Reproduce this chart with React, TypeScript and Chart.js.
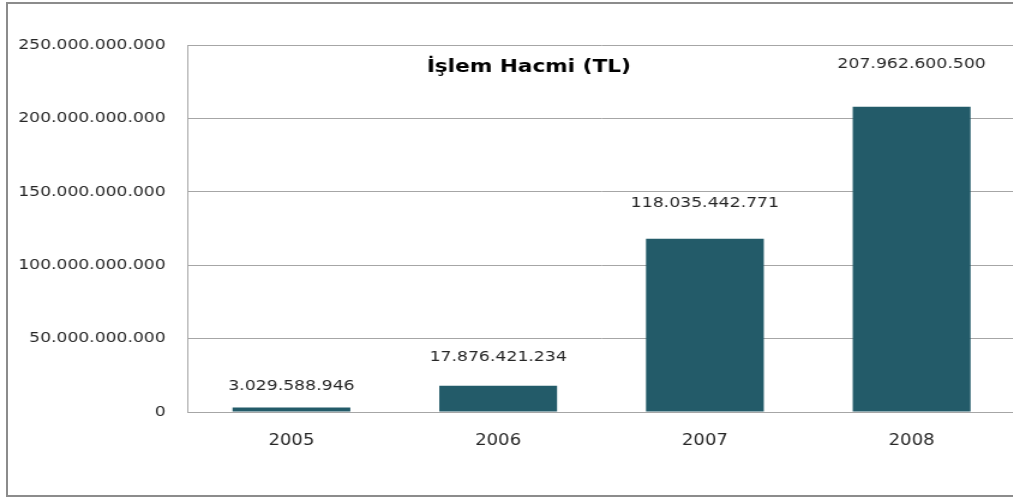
import { useEffect, useRef } from 'react';
import { Chart, registerables } from 'chart.js';

Chart.register(...registerables);

const categories = ['2005', '2006', '2007', '2008'];
const volumes = [3029588946, 17876421234, 118035442771, 207962600500];
const yTickValues = [0, 50000000000, 100000000000, 150000000000, 200000000000, 250000000000];
const chartTitle = 'İşlem Hacmi (TL)';

const fmt = (v: number) => Math.round(v).toString().replace(/\B(?=(\d{3})+(?!\d))/g, '.');

const SX = 1.2;
const FONT = '"DejaVu Sans", Verdana, sans-serif';

const overlay = {
  id: 'overlay',
  afterDatasetsDraw(chart: any) {
    const ctx = chart.ctx;
    const meta = chart.getDatasetMeta(0);
    ctx.save();
    ctx.fillStyle = '#262626';
    ctx.font = `14.4px ${FONT}`;
    ctx.textAlign = 'center';
    ctx.textBaseline = 'middle';
    meta.data.forEach((bar: any, i: number) => {
      ctx.fillText(fmt(volumes[i]), bar.x, bar.y - (21 + 7 * i));
    });
    ctx.font = `bold 18px ${FONT}`;
    ctx.fillStyle = '#000';
    ctx.fillText(chartTitle, chart.chartArea.left + 284, 67);
    ctx.restore();
  },
};

export default function App() {
  const ref = useRef<HTMLCanvasElement | null>(null);
  useEffect(() => {
    if (!ref.current) return;
    const chart = new Chart(ref.current, {
      type: 'bar',
      data: {
        labels: categories,
        datasets: [
          {
            data: volumes,
            backgroundColor: '#235B69',
            borderWidth: 0,
            categoryPercentage: 1,
            barPercentage: 0.57,
          },
        ],
      },
      options: {
        animation: false,
        responsive: false,
        devicePixelRatio: 1,
        layout: { padding: { top: 45, right: 4.2, bottom: 0, left: 0 } },
        plugins: { legend: { display: false }, tooltip: { enabled: false }, title: { display: false } },
        scales: {
          x: {
            grid: { display: false, drawTicks: false },
            border: { color: '#a6a6a6', width: 1 },
            ticks: { color: '#262626', font: { family: FONT, size: 15 }, padding: 20 },
            afterFit: (s: any) => { s.height = 86; },
          },
          y: {
            min: 0,
            max: 250000000000,
            afterBuildTicks: (s: any) => { s.ticks = yTickValues.map((v) => ({ value: v })); },
            grid: { color: '#a6a6a6', drawTicks: false, lineWidth: 1 },
            border: { color: '#a6a6a6', width: 1 },
            ticks: {
              color: '#262626',
              font: { family: FONT, size: 14.3 },
              padding: 18.7,
              callback: (v: any) => fmt(Number(v)),
            },
            afterFit: (s: any) => { s.width = 156.7; },
          },
        },
      },
      plugins: [overlay],
    });
    return () => chart.destroy();
  }, []);

  return (
    <div style={{ position: 'fixed', left: 0, top: 0, width: 1013, height: 498, overflow: 'hidden', background: '#fff' }}>
      <div
        style={{
          position: 'absolute',
          left: 6,
          top: 2,
          width: 1100,
          height: 495,
          boxSizing: 'border-box',
          border: '2px solid #8c8c8c',
        }}
      />
      <div style={{ position: 'absolute', left: 0, top: 0, width: 850, height: 498, transform: `scaleX(${SX})`, transformOrigin: '0 0' }}>
        <canvas ref={ref} width={850} height={498} style={{ display: 'block' }} />
      </div>
    </div>
  );
}
